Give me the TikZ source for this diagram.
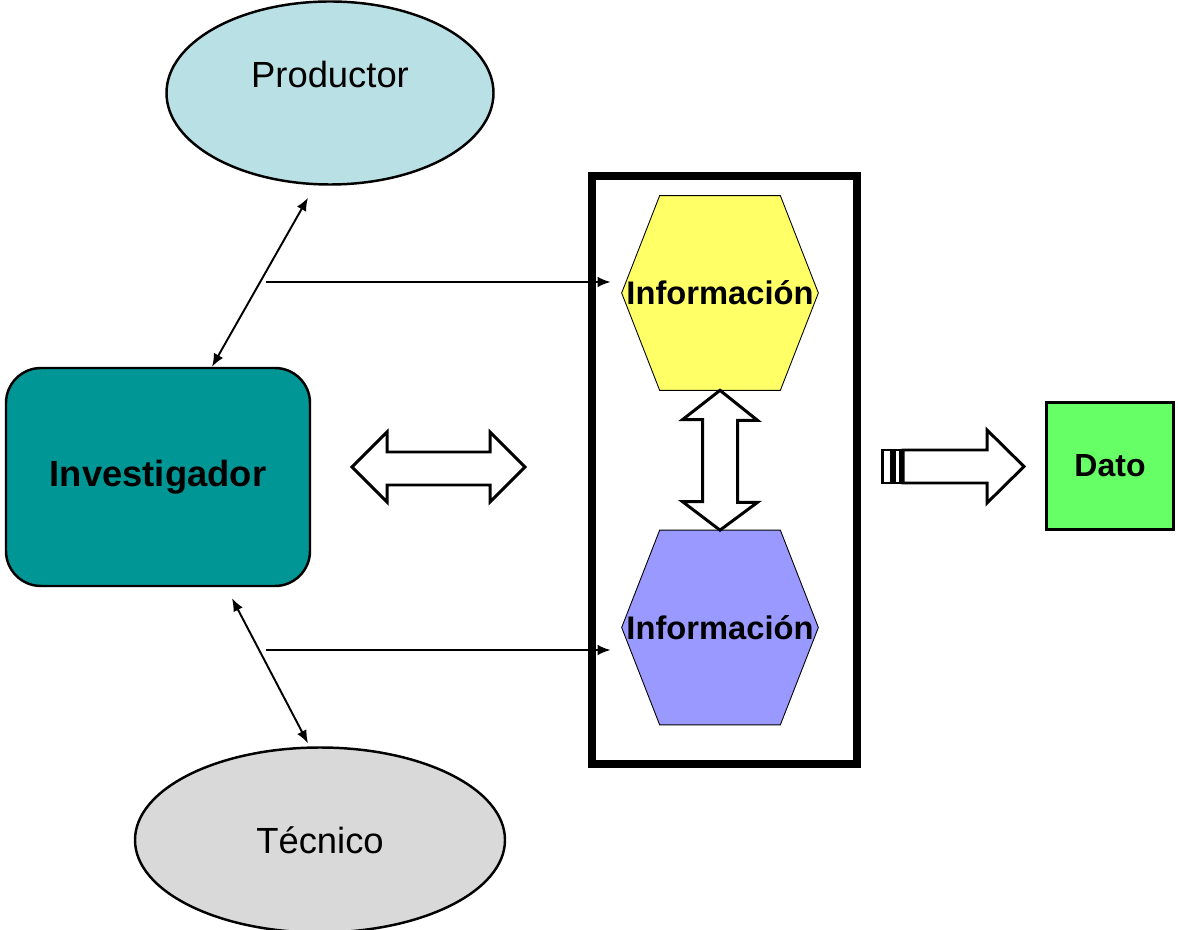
\documentclass[tikz,border=0pt]{standalone}
\usepackage{fontspec}
\setmainfont{Liberation Sans}
\usetikzlibrary{shapes.geometric,backgrounds,arrows.meta}

\definecolor{prodblue}{RGB}{185,224,228}
\definecolor{invteal}{RGB}{0,150,150}
\definecolor{tecgray}{RGB}{217,217,217}
\definecolor{infoyellow}{RGB}{255,255,102}
\definecolor{infoblue}{RGB}{153,153,255}
\definecolor{datogreen}{RGB}{102,255,102}

\begin{document}
\begin{tikzpicture}[
        actor/.style={ellipse, draw, line width=1.4pt, inner sep=0pt,
            font=\fontsize{20.7}{24}\selectfont},
        infobox/.style={minimum width=3.92cm, minimum height=3.88cm, inner sep=0pt,
            font=\fontsize{18.6}{22}\selectfont\bfseries},
        hexa/.style={draw, line width=0.5pt},
        link/.style={line width=1.1pt},
        tip/.tip={Latex[length=2.6mm, width=2.1mm]},
        blockarrow/.style={draw, fill=white, line width=1.7pt, line join=miter}
    ]
    \useasboundingbox (0, 0) rectangle (23.56, -18.6);

    \node[actor, fill=prodblue, minimum width=6.54cm, minimum height=3.66cm, text depth=0.75cm] (prod) at (6.6, -1.86) {Productor};
    \node[actor, fill=tecgray, minimum width=7.4cm, minimum height=3.7cm] (tec) at (6.4, -16.8) {Técnico};
    \node[draw, line width=1.4pt, fill=invteal, rounded corners=0.7cm, minimum width=6.08cm, minimum height=4.36cm,
        font=\fontsize{20.7}{24}\selectfont\bfseries] (inv) at (3.16, -9.54) {Investigador};

    \node[draw, line width=4pt, minimum width=5.3cm, minimum height=11.76cm] (panel) at (14.49, -9.4) {};
    \node[infobox] (info1) at (14.4, -5.86) {Información};
    \node[infobox] (info2) at (14.4, -12.55) {Información};
    \node[draw, line width=1.6pt, fill=datogreen, minimum width=2.54cm, minimum height=2.54cm,
        font=\fontsize{18.2}{22}\selectfont\bfseries] (dato) at (22.2, -9.32) {Dato};

    % hexagons behind the text
    \begin{scope}[on background layer]
        \draw[hexa, fill=infoyellow] (info1.west) -- ([xshift=7.6mm]info1.north west) -- ([xshift=-7.6mm]info1.north east)
            -- (info1.east) -- ([xshift=-7.6mm]info1.south east) -- ([xshift=7.6mm]info1.south west) -- cycle;
        \draw[hexa, fill=infoblue] (info2.west) -- ([xshift=7.6mm]info2.north west) -- ([xshift=-7.6mm]info2.north east)
            -- (info2.east) -- ([xshift=-7.6mm]info2.south east) -- ([xshift=7.6mm]info2.south west) -- cycle;
    \end{scope}

    \coordinate (up) at (5.32, -5.64);
    \coordinate (down) at (5.32, -13.0);

    \draw[link, tip-tip] ([xshift=1.08cm]inv.north) -- ([xshift=-0.44cm, yshift=-0.24cm]prod.south);
    \draw[link, tip-tip] ([xshift=1.48cm, yshift=-0.22cm]inv.south) -- ([xshift=-0.24cm, yshift=0.06cm]tec.north);
    \draw[link, -tip, shorten >=2.2mm] (up) -- (up -| info1.west);
    \draw[link, -tip, shorten >=2.2mm] (down) -- (down -| info2.west);

    % block arrows
    \draw[blockarrow] (7.04, -9.34) -- (7.74, -8.64) -- (7.74, -9.04) -- (9.8, -9.04) -- (9.8, -8.64) -- (10.5, -9.34)
        -- (9.8, -10.04) -- (9.8, -9.7) -- (7.74, -9.7) -- (7.74, -10.04) -- cycle;
    \draw[blockarrow] (info1.south) -- ++(0.75, -0.6) -- ++(-0.4, 0) -- ++(0, -1.64) -- ++(0.4, 0) -- (info2.north)
        -- ++(-0.75, 0.57) -- ++(0.4, 0) -- ++(0, 1.64) -- ++(-0.4, 0) -- cycle;
    \draw[blockarrow] (17.64, -9.0) rectangle (17.82, -9.66);
    \draw[blockarrow] (17.88, -9.0) rectangle (18.0, -9.66);
    \draw[blockarrow] (18.06, -9.0) -- (19.74, -9.0) -- (19.74, -8.6) -- (20.48, -9.33) -- (19.74, -10.06)
        -- (19.74, -9.66) -- (18.06, -9.66) -- cycle;
\end{tikzpicture}
\end{document}
